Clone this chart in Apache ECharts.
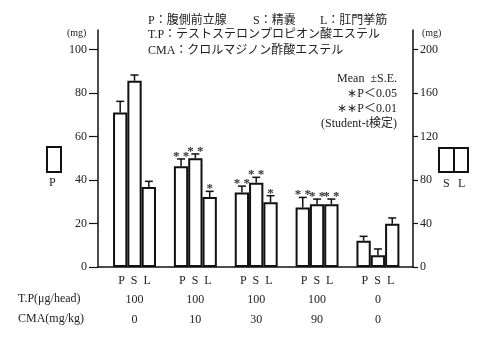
<!DOCTYPE html>
<html><head><meta charset="utf-8">
<script src="https://cdn.jsdelivr.net/npm/echarts@6/dist/echarts.min.js"></script>
<style>html,body{margin:0;padding:0;background:#fff}#c{width:480px;height:340px}</style>
</head><body><div id="c"></div>
<script>
// ---- data ----
const groups = ['G1', 'G2', 'G3', 'G4', 'G5'];
const tpDose = ['100', '100', '100', '100', '0'];      // T.P (μg/head)
const cmaDose = ['0', '10', '30', '90', '0'];          // CMA (mg/kg)
const pMean = [71.1, 46.3, 34.3, 27.4, 12.1];          // left axis (mg)
const pErr  = [5.1, 3.4, 2.9, 4.6, 2.0];
const sMean = [171.3, 100.0, 77.5, 57.7, 10.8];        // right axis (mg)
const sErr  = [5.3, 4.0, 5.0, 4.8, 5.8];
const lMean = [73.6, 64.4, 59.5, 57.7, 39.8];          // right axis (mg)
const lErr  = [5.2, 5.2, 6.1, 4.8, 5.3];
const pSig = ['', '**', '**', '**', ''];
const sSig = ['', '**', '**', '**', ''];
const lSig = ['', '*', '*', '**', ''];
const leftMax = 100, rightMax = 200;
const leftStep = 20, rightStep = 40;

// ---- layout helpers ----
const SERIF = "'Liberation Serif','Noto Sans CJK JP',serif";
const slots = 22;
const center = i => 2.55 + 4.25 * i;
const labelPos = groups.map((g, i) => center(i));
const PLOT_BOTTOM = 73, PLOT_TOP = 49.6, LINE_TOP = 30;

function barSeries(name, mean, k, yIdx) {
  return {
    type: 'bar', name, xAxisIndex: 1, yAxisIndex: yIdx, barWidth: 14.3, barGap: '-100%',
    itemStyle: {color: '#fff', borderColor: '#111', borderWidth: 2},
    data: mean.map((v, i) => [center(i) + (k - 1), v]), z: 2
  };
}
function errSeries(mean, err, sig, k, yIdx) {
  return {
    type: 'custom', xAxisIndex: 1, yAxisIndex: yIdx, z: 3,
    data: mean.map((v, i) => [center(i) + (k - 1), v, err[i]]),
    renderItem(params, api) {
      const x = api.value(0), m = api.value(1), e = api.value(2);
      const s = sig[params.dataIndex];
      const b = api.coord([x, m]), t = api.coord([x, m + e]);
      const st = {stroke: '#111', lineWidth: 1.5};
      const ch = [
        {type: 'line', shape: {x1: b[0], y1: b[1], x2: t[0], y2: t[1]}, style: st},
        {type: 'line', shape: {x1: t[0] - 4, y1: t[1], x2: t[0] + 4, y2: t[1]}, style: st}
      ];
      if (s) ch.push({type: 'text', style: {text: s.split('').join(' '), x: t[0], y: t[1] + 4,
        align: 'center', verticalAlign: 'bottom', font: "bold 13px 'Liberation Serif',serif", fill: '#333'}});
      return {type: 'group', children: ch};
    }
  };
}

const chart = echarts.init(document.getElementById('c'), null, {renderer: 'canvas'});
const lineOnly = {show: true, onZero: false, lineStyle: {color: '#111', width: 1.5}};
chart.setOption({
  backgroundColor: '#fff',
  animation: false,
  grid: [
    {left: 98, right: 67, top: LINE_TOP, bottom: PLOT_BOTTOM},   // tall frame: axis lines only
    {left: 98, right: 67, top: PLOT_TOP, bottom: PLOT_BOTTOM}     // data grid
  ],
  xAxis: [
    {gridIndex: 0, type: 'value', min: 0, max: slots, show: false},
    {gridIndex: 1, type: 'value', min: 0, max: slots,
     axisLine: lineOnly, axisTick: {show: false},
     axisLabel: {
       customValues: labelPos, margin: 4, lineHeight: 19.5, color: '#222',
       fontFamily: SERIF, fontSize: 12, align: 'center',
       formatter: v => {
         const i = labelPos.findIndex(c => Math.abs(c - v) < 0.01);
         return i < 0 ? '' : 'P  S  L\n' + tpDose[i] + '\n' + cmaDose[i];
       }
     },
     splitLine: {show: false}}
  ],
  yAxis: [
    {gridIndex: 0, type: 'value', min: 0, max: 1, position: 'left', axisLine: lineOnly,
     axisTick: {show: false}, axisLabel: {show: false}, splitLine: {show: false}},
    {gridIndex: 0, type: 'value', min: 0, max: 1, position: 'right', axisLine: lineOnly,
     axisTick: {show: false}, axisLabel: {show: false}, splitLine: {show: false}},
    {gridIndex: 1, type: 'value', min: 0, max: leftMax, interval: leftStep, position: 'left',
     axisLine: {show: false},
     axisTick: {show: true, length: 9, lineStyle: {color: '#111', width: 1.2}},
     axisLabel: {margin: 11, color: '#222', fontFamily: SERIF, fontSize: 12},
     splitLine: {show: false}},
    {gridIndex: 1, type: 'value', min: 0, max: rightMax, interval: rightStep, position: 'right',
     axisLine: {show: false},
     axisTick: {show: true, length: 5, lineStyle: {color: '#111', width: 1.2}},
     axisLabel: {margin: 7, color: '#222', fontFamily: SERIF, fontSize: 12},
     splitLine: {show: false}}
  ],
  series: [
    barSeries('P', pMean, 0, 2), barSeries('S', sMean, 1, 3), barSeries('L', lMean, 2, 3),
    errSeries(pMean, pErr, pSig, 0, 2), errSeries(sMean, sErr, sSig, 1, 3), errSeries(lMean, lErr, lSig, 2, 3)
  ],
  graphic: [
    {type: 'text', left: 148, top: 15, style: {text: 'P：腹側前立腺', font: "12px " + SERIF, fill: '#222'}},
    {type: 'text', left: 253, top: 15, style: {text: 'S：精嚢', font: "12px " + SERIF, fill: '#222'}},
    {type: 'text', left: 320, top: 15, style: {text: 'L：肛門挙筋', font: "12px " + SERIF, fill: '#222'}},
    {type: 'text', left: 148, top: 29, style: {text: 'T.P：テストステロンプロピオン酸エステル', font: "12px " + SERIF, fill: '#222'}},
    {type: 'text', left: 148, top: 45, style: {text: 'CMA：クロルマジノン酢酸エステル', font: "12px " + SERIF, fill: '#222'}},
    {type: 'text', right: 83, top: 73, style: {text: 'Mean  ±S.E.', font: "12px " + SERIF, fill: '#222', align: 'right'}},
    {type: 'text', right: 83, top: 88, style: {text: '∗P＜0.05', font: "12px " + SERIF, fill: '#222', align: 'right'}},
    {type: 'text', right: 83, top: 103, style: {text: '∗∗P＜0.01', font: "12px " + SERIF, fill: '#222', align: 'right'}},
    {type: 'text', right: 83, top: 118, style: {text: '(Student-t検定)', font: "12px " + SERIF, fill: '#222', align: 'right'}},
    {type: 'text', left: 67, top: 28, style: {text: '(mg)', font: "10px " + SERIF, fill: '#222'}},
    {type: 'text', left: 422, top: 28, style: {text: '(mg)', font: "10px " + SERIF, fill: '#222'}},
    {type: 'rect', shape: {x: 47, y: 147, width: 14, height: 25}, style: {fill: 'none', stroke: '#111', lineWidth: 2}},
    {type: 'text', left: 49, top: 177, style: {text: 'P', font: "12px " + SERIF, fill: '#222'}},
    {type: 'rect', shape: {x: 439, y: 148, width: 29, height: 24}, style: {fill: 'none', stroke: '#111', lineWidth: 2}},
    {type: 'line', shape: {x1: 454, y1: 148, x2: 454, y2: 172}, style: {stroke: '#111', lineWidth: 2}},
    {type: 'text', left: 443, top: 178, style: {text: 'S', font: "12px " + SERIF, fill: '#222'}},
    {type: 'text', left: 458, top: 178, style: {text: 'L', font: "12px " + SERIF, fill: '#222'}},
    {type: 'text', left: 18, top: 293, style: {text: 'T.P(μg/head)', font: "12px " + SERIF, fill: '#222'}},
    {type: 'text', left: 18, top: 313, style: {text: 'CMA(mg/kg)', font: "12px " + SERIF, fill: '#222'}}
  ]
});
</script></body></html>
